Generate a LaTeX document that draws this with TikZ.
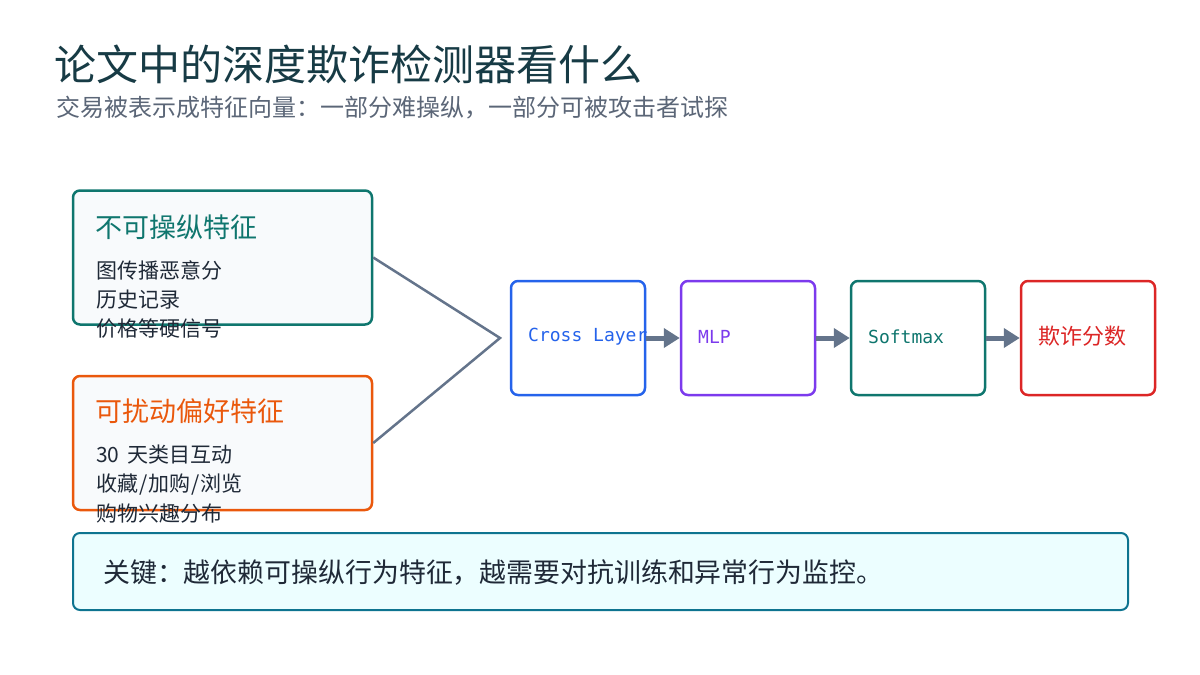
\documentclass[tikz,border=0pt]{standalone}
\usepackage{fontspec}
\setmainfont{Noto Sans CJK SC}
\newfontfamily\monofont{DejaVu Sans Mono}
\usetikzlibrary{arrows.meta}
\definecolor{titlec}{HTML}{173B45}
\definecolor{subc}{HTML}{5B6677}
\definecolor{tealc}{HTML}{0F766E}
\definecolor{orangec}{HTML}{EA580C}
\definecolor{bluec}{HTML}{2563EB}
\definecolor{purplec}{HTML}{7C3AED}
\definecolor{redc}{HTML}{DC2626}
\definecolor{grayc}{HTML}{64748B}
\definecolor{textc}{HTML}{1F2937}
\definecolor{panelc}{HTML}{F8FAFC}
\definecolor{keyfill}{HTML}{ECFEFF}
\definecolor{keydraw}{HTML}{0E7490}
\begin{document}
\begin{tikzpicture}[x=1pt,y=-1pt,
  featbox/.style={draw, line width=2.5pt, rounded corners=7pt, fill=panelc, minimum width=299pt, minimum height=134pt, inner sep=0pt},
  stagebox/.style={draw, line width=2.5pt, rounded corners=7pt, fill=white, minimum width=134pt, minimum height=114pt, inner sep=0pt},
  lbl/.style={anchor=west, inner sep=0pt},
  item/.style={lbl, text=textc, font=\fontsize{21}{24}\selectfont},
  boxtitle/.style={lbl, font=\fontsize{27}{30}\selectfont},
  monolbl/.style={lbl, font=\monofont\fontsize{18}{22}\selectfont},
  link/.style={draw=grayc, line width=2.5pt},
  flow/.style={draw=grayc, line width=5pt, -{Triangle[length=16pt,width=19pt]}}
]
\useasboundingbox (0,0) rectangle (1200,675);
% titles
\node[lbl, text=titlec, font=\fontsize{42}{48}\selectfont] (title) at (54,64) {论文中的深度欺诈检测器看什么};
\node[lbl, text=subc, font=\fontsize{24}{28}\selectfont] (subtitle) at (56,108) {交易被表示成特征向量：一部分难操纵，一部分可被攻击者试探};
% feature boxes
\node[featbox, draw=tealc] (b1) at (222.5,257.5) {};
\node[boxtitle, text=tealc] (b1t) at (95,227) {不可操纵特征};
\node[item] (b1a) at (96,270) {图传播恶意分};
\node[item] (b1b) at (96,299.5) {历史记录};
\node[item] (b1c) at (96,329) {价格等硬信号};
\node[featbox, draw=orangec] (b2) at (222.5,443) {};
\node[boxtitle, text=orangec] (b2t) at (95,411) {可扰动偏好特征};
\node[item] (b2a) at (96,455) {30\hspace{8pt}天类目互动};
\node[item] (b2b) at (96,484.5) {收藏\hspace{1pt}/\hspace{1pt}加购\hspace{1pt}/\hspace{1pt}浏览};
\node[item] (b2c) at (96,514) {购物兴趣分布};
% pipeline
\node[stagebox, draw=bluec] (s1) at (578,338) {};
\node[stagebox, draw=purplec] (s2) at (748,338) {};
\node[stagebox, draw=tealc] (s3) at (918,338) {};
\node[stagebox, draw=redc] (s4) at (1088,338) {};
\node[monolbl, text=bluec] (s1t) at (528,337) {Cross Layer};
\node[monolbl, text=purplec] (s2t) at (698,337) {MLP};
\node[monolbl, text=tealc] (s3t) at (868,337) {Softmax};
\node[lbl, text=redc, font=\fontsize{22}{26}\selectfont] (s4t) at (1038,336) {欺诈分数};
\coordinate (join) at (500,338);
\draw[link] (b1.east) -- (join) -- (b2.east);
\draw[flow] (s1.east) -- (s2.west);
\draw[flow] (s2.east) -- (s3.west);
\draw[flow] (s3.east) -- (s4.west);
% key box
\node[draw=keydraw, fill=keyfill, line width=2pt, rounded corners=7pt, minimum width=1055pt, minimum height=77pt, inner sep=0pt] (key) at (600.5,571.5) {};
\node[lbl, text=textc, font=\fontsize{26.9}{30}\selectfont] (keyt) at (103,573) {关键：越依赖可操纵行为特征，越需要对抗训练和异常行为监控。};
\end{tikzpicture}
\end{document}
